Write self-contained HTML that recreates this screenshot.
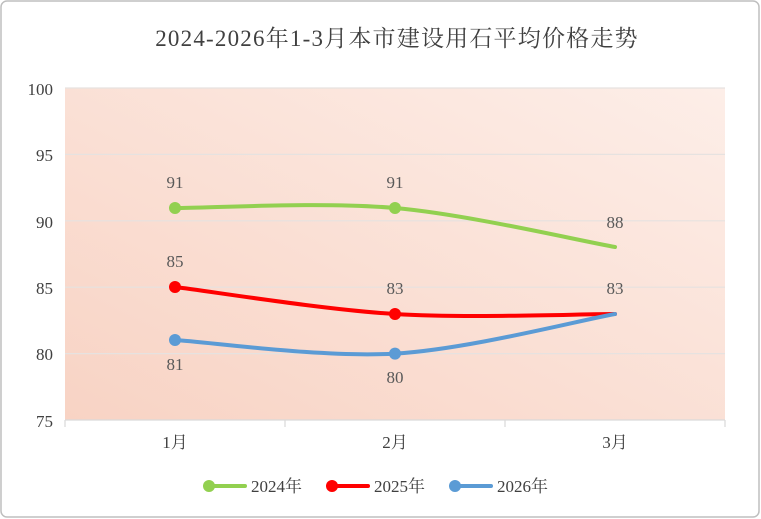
<!DOCTYPE html>
<html><head><meta charset="utf-8"><style>
html,body{margin:0;padding:0;background:#fff;}
svg{display:block;}
text{font-family:"Liberation Serif","Noto Serif CJK SC",serif;}
</style></head><body>
<svg width="761" height="519" viewBox="0 0 761 519">
<defs>
<linearGradient id="bg" x1="0" y1="1" x2="1" y2="0">
<stop offset="0" stop-color="#f8d3c4"/>
<stop offset="1" stop-color="#fdeee8"/>
</linearGradient>
</defs>
<rect x="1" y="1" width="758" height="516" rx="6" fill="#fff" stroke="#bfbfbf" stroke-width="1.5"/>
<text x="397" y="46" text-anchor="middle" font-size="23" letter-spacing="1.2" fill="#404040">2024-2026年1-3月本市建设用石平均价格走势</text>
<rect x="65" y="88" width="660" height="332" fill="url(#bg)"/>
<g stroke="#e6e2e0" stroke-width="1.2">
<line x1="65" y1="88" x2="725" y2="88"/>
<line x1="65" y1="154.4" x2="725" y2="154.4"/>
<line x1="65" y1="220.8" x2="725" y2="220.8"/>
<line x1="65" y1="287.2" x2="725" y2="287.2"/>
<line x1="65" y1="353.6" x2="725" y2="353.6"/>
</g>
<g stroke="#d9d9d9" stroke-width="1.2">
<line x1="65" y1="420" x2="725" y2="420"/>
<line x1="65" y1="420" x2="65" y2="427"/>
<line x1="285" y1="420" x2="285" y2="427"/>
<line x1="505" y1="420" x2="505" y2="427"/>
<line x1="725" y1="420" x2="725" y2="427"/>
</g>
<g font-size="17" fill="#404040" text-anchor="end">
<text x="53" y="95">100</text>
<text x="53" y="161">95</text>
<text x="53" y="228">90</text>
<text x="53" y="294">85</text>
<text x="53" y="360">80</text>
<text x="53" y="427">75</text>
</g>
<g font-size="17" fill="#404040" text-anchor="middle">
<text x="175" y="448">1月</text>
<text x="395" y="448">2月</text>
<text x="615" y="448">3月</text>
</g>
<g fill="none" stroke-width="4" stroke-linecap="round">
<path d="M175,208 C211.7,208 321.7,201.5 395,208 C468,214.5 578,240.5 615,247" stroke="#92d050"/>
<path d="M175,287 C212,291.5 322,309.5 395,314 C468,318.5 578,314 615,314" stroke="#ff0000"/>
<path d="M175,340 C212,342.3 322,357.9 395,353.6 C468,349.3 578,320.6 615,314" stroke="#5b9bd5"/>
</g>
<circle cx="175" cy="208" r="6" fill="#92d050"/>
<circle cx="395" cy="208" r="6" fill="#92d050"/>
<circle cx="175" cy="287" r="6" fill="#ff0000"/>
<circle cx="395" cy="314" r="6" fill="#ff0000"/>
<circle cx="175" cy="340" r="6" fill="#5b9bd5"/>
<circle cx="395" cy="353.6" r="6" fill="#5b9bd5"/>
<g font-size="17" fill="#595959" text-anchor="middle">
<text x="175" y="188">91</text>
<text x="395" y="188">91</text>
<text x="615" y="228">88</text>
<text x="175" y="267">85</text>
<text x="395" y="294">83</text>
<text x="615" y="294">83</text>
<text x="175" y="370">81</text>
<text x="395" y="383">80</text>
</g>
<g stroke-width="4" stroke-linecap="round">
<line x1="209" y1="486" x2="245" y2="486" stroke="#92d050"/>
<circle cx="209" cy="486" r="6" fill="#92d050"/>
<line x1="332" y1="486" x2="368" y2="486" stroke="#ff0000"/>
<circle cx="332" cy="486" r="6" fill="#ff0000"/>
<line x1="455" y1="486" x2="491" y2="486" stroke="#5b9bd5"/>
<circle cx="455" cy="486" r="6" fill="#5b9bd5"/>
</g>
<g font-size="17" fill="#404040">
<text x="251" y="492">2024年</text>
<text x="374" y="492">2025年</text>
<text x="497" y="492">2026年</text>
</g>
</svg>
</body></html>
